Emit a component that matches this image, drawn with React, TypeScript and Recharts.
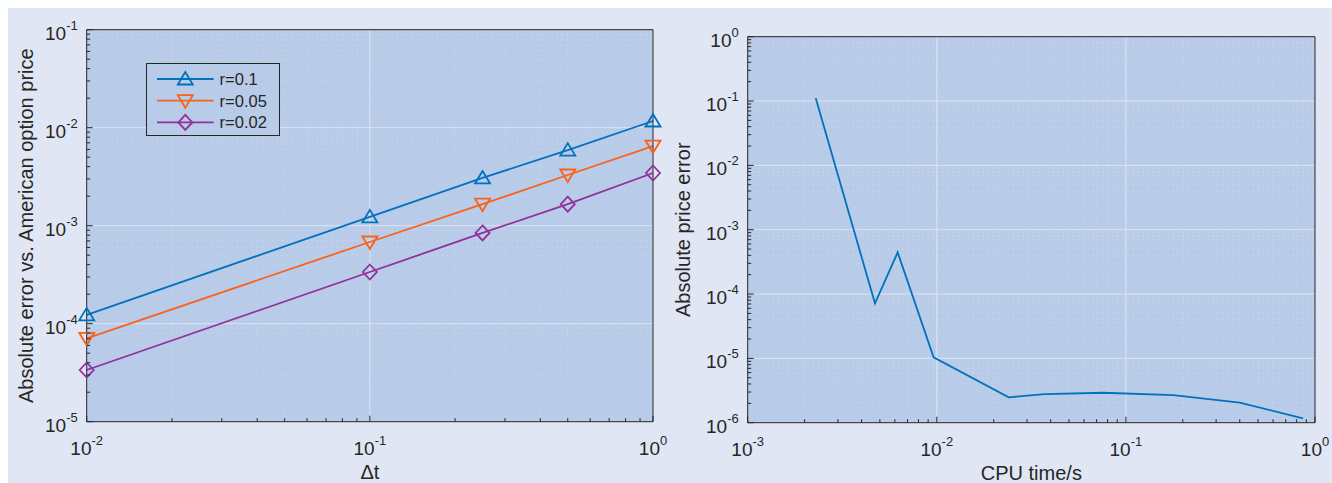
import React from 'react'
import { LineChart, Line, XAxis, YAxis, CartesianGrid, Legend, Label } from 'recharts'

// convergence in time step, three interest rates
const dt = [0.01, 0.1, 0.25, 0.5, 1]
const errR01 = [1.23e-4, 1.23e-3, 3.07e-3, 5.9e-3, 1.17e-2]
const errR005 = [7.1e-5, 6.82e-4, 1.66e-3, 3.29e-3, 6.5e-3]
const errR002 = [3.37e-5, 3.37e-4, 8.43e-4, 1.66e-3, 3.45e-3]

// error against CPU time
const cpuTime = [2.29e-3, 4.71e-3, 6.21e-3, 9.62e-3, 0.024, 0.0372, 0.0759, 0.178, 0.4, 0.864]
const priceErr = [0.11, 7.18e-5, 4.45e-4, 1.04e-5, 2.48e-6, 2.79e-6, 2.92e-6, 2.69e-6, 2.05e-6, 1.17e-6]

const leftXTicks = [1e-2, 1e-1, 1]
const leftYTicks = [1e-5, 1e-4, 1e-3, 1e-2, 1e-1]
const rightXTicks = [1e-3, 1e-2, 1e-1, 1]
const rightYTicks = [1e-6, 1e-5, 1e-4, 1e-3, 1e-2, 1e-1, 1]

const FIG_BG = '#e0e6f3'
const AX_BG = '#b8cbe8'
const INK = '#262626'
const BLUE = '#0072bd'
const ORANGE = '#f9621a'
const PURPLE = '#932f9c'
const FONT = '"Liberation Sans", Arial, Helvetica, sans-serif'
const LW = 1.8

const seriesLeft = [
  { key: 'r01', name: 'r=0.1', color: BLUE, shape: 'up', values: errR01 },
  { key: 'r005', name: 'r=0.05', color: ORANGE, shape: 'down', values: errR005 },
  { key: 'r002', name: 'r=0.02', color: PURPLE, shape: 'diamond', values: errR002 },
]

const leftData = dt.map((d, i) => {
  const row: Record<string, number> = { dt: d }
  seriesLeft.forEach((s) => (row[s.key] = s.values[i]))
  return row
})
const rightData = cpuTime.map((t, i) => ({ cpu: t, err: priceErr[i] }))

// 2..9 inside every decade
const minors = (majors: number[]) => {
  const out: number[] = []
  for (let i = 0; i < majors.length - 1; i++) for (let k = 2; k <= 9; k++) out.push(majors[i] * k)
  return out
}
const inner = (majors: number[]) => majors.slice(1, -1)
const isMajor = (v: number) => Math.abs(Math.log10(v) - Math.round(Math.log10(v))) < 1e-6

const markerPath = (shape: string, cx: number, cy: number) => {
  if (shape === 'up') return `M${cx},${cy - 7} L${cx + 7.5},${cy + 5.5} L${cx - 7.5},${cy + 5.5} Z`
  if (shape === 'down') return `M${cx},${cy + 7} L${cx + 7.5},${cy - 5.5} L${cx - 7.5},${cy - 5.5} Z`
  return `M${cx},${cy - 7.5} L${cx + 7},${cy} L${cx},${cy + 7.5} L${cx - 7},${cy} Z`
}

const makeDot = (shape: string, color: string) => (p: any) => (
  <path key={`m-${p.index}`} d={markerPath(shape, p.cx, p.cy)} fill="none" stroke={color} strokeWidth={LW} />
)

const Pow10 = ({ x, y, v, anchor }: { x: number; y: number; v: number; anchor: 'middle' | 'end' }) => (
  <text x={x} y={y} textAnchor={anchor} fill={INK} fontSize={19} fontFamily={FONT}>
    10
    <tspan dy={-10} fontSize={13}>
      {Math.round(Math.log10(v))}
    </tspan>
  </text>
)

// inward tick marks, labels only on the bottom and left sides
const makeTick = (side: 'bottom' | 'top' | 'left' | 'right') => (props: any) => {
  const { x, y, payload } = props
  const v = payload.value as number
  const major = isMajor(v)
  const len = major ? 6 : 3.5
  let line
  if (side === 'bottom') line = <line x1={x} y1={y} x2={x} y2={y - len} />
  else if (side === 'top') line = <line x1={x} y1={y} x2={x} y2={y + len} />
  else if (side === 'left') line = <line x1={x} y1={y} x2={x + len} y2={y} />
  else line = <line x1={x} y1={y} x2={x - len} y2={y} />
  return (
    <g>
      <g stroke={INK} strokeWidth={1}>{line}</g>
      {major && side === 'bottom' && <Pow10 x={x} y={y + 33} v={v} anchor="middle" />}
      {major && side === 'left' && <Pow10 x={x - 9} y={y + 10} v={v} anchor="end" />}
    </g>
  )
}

const xTitle = (text: string) => (p: any) => {
  const { x, y, width } = p.viewBox
  return (
    <text x={x + width / 2} y={y + 57} textAnchor="middle" fill={INK} fontSize={20} fontFamily={FONT}>
      {text}
    </text>
  )
}

const yTitle = (text: string, gap: number) => (p: any) => {
  const { x, y, width, height } = p.viewBox
  const cx = x + width - gap
  const cy = y + height / 2
  return (
    <text x={cx} y={cy} transform={`rotate(-90 ${cx} ${cy})`} textAnchor="middle" fill={INK} fontSize={20} fontFamily={FONT}>
      {text}
    </text>
  )
}

const LegendBox = () => (
  <div
    style={{
      boxSizing: 'border-box',
      width: 134,
      height: 73,
      border: `1px solid ${INK}`,
      background: AX_BG,
    }}
  >
    <svg width={132} height={71} style={{ display: 'block' }}>
      {seriesLeft.map((s, i) => {
        const cy = 15 + i * 21.7
        return (
          <g key={s.key}>
            <line x1={10} y1={cy} x2={66.6} y2={cy} stroke={s.color} strokeWidth={LW} />
            <path d={markerPath(s.shape, 38.3, cy)} fill="none" stroke={s.color} strokeWidth={LW} />
            <text x={72.6} y={cy + 6} fill={INK} fontSize={16.5} fontFamily={FONT}>
              {s.name}
            </text>
          </g>
        )
      })}
    </svg>
  </div>
)

function Axes({
  xKey,
  xTicks,
  yTicks,
  xLabel,
  yLabel,
  yGap,
}: {
  xKey: string
  xTicks: number[]
  yTicks: number[]
  xLabel: string
  yLabel: string
  yGap: number
}) {
  const xDomain = [xTicks[0], xTicks[xTicks.length - 1]]
  const yDomain = [yTicks[0], yTicks[yTicks.length - 1]]
  const allX = [...xTicks, ...minors(xTicks)]
  const allY = [...yTicks, ...minors(yTicks)]
  const common = {
    type: 'number' as const,
    scale: 'log' as const,
    interval: 0 as const,
    tickSize: 0,
    tickMargin: 0,
    tickLine: false,
    axisLine: { stroke: INK, strokeWidth: 1 },
  }
  // axes are 1px thick so they still render; the margins absorb that pixel
  return [
    <CartesianGrid
      key="gmin"
      fill={AX_BG}
      fillOpacity={1}
      stroke="#d4dae6"
      strokeDasharray="1 4"
      horizontalValues={minors(yTicks)}
      verticalValues={minors(xTicks)}
    />,
    <CartesianGrid key="gmaj" fill="none" stroke="#e1e5ee" horizontalValues={inner(yTicks)} verticalValues={inner(xTicks)} />,
    <XAxis key="xb" dataKey={xKey} domain={xDomain} ticks={allX} height={1} tick={makeTick('bottom')} {...common}>
      <Label content={xTitle(xLabel)} />
    </XAxis>,
    <XAxis key="xt" xAxisId="top" orientation="top" domain={xDomain} ticks={allX} height={1} tick={makeTick('top')} {...common} />,
    <YAxis key="yl" domain={yDomain} ticks={allY} width={1} tick={makeTick('left')} {...common}>
      <Label content={yTitle(yLabel, yGap)} />
    </YAxis>,
    <YAxis key="yr" yAxisId="right" orientation="right" domain={yDomain} ticks={allY} width={1} tick={makeTick('right')} {...common} />,
  ]
}

export default function App() {
  return (
    <div style={{ position: 'absolute', left: 8, top: 8, width: 1324, height: 475, background: FIG_BG }}>
      <div style={{ position: 'absolute', left: 0, top: 0 }}>
        <LineChart width={660} height={475} data={leftData} margin={{ top: 20.7, right: 14, bottom: 60.3, left: 77.7 }}>
          {Axes({
            xKey: 'dt',
            xTicks: leftXTicks,
            yTicks: leftYTicks,
            xLabel: 'Δt',
            yLabel: 'Absolute error vs. American option price',
            yGap: 54,
          })}
          {seriesLeft.map((s) => (
            <Line
              key={s.key}
              dataKey={s.key}
              name={s.name}
              type="linear"
              stroke={s.color}
              strokeWidth={LW}
              dot={makeDot(s.shape, s.color)}
              activeDot={false}
              isAnimationActive={false}
            />
          ))}
          <Legend
            layout="vertical"
            align="center"
            verticalAlign="middle"
            content={<LegendBox />}
            wrapperStyle={{ left: 137.7, top: 55.3, right: 'auto', bottom: 'auto', width: 134, height: 73 }}
          />
        </LineChart>
      </div>
      <div style={{ position: 'absolute', left: 660, top: 0 }}>
        <LineChart width={664} height={475} data={rightData} margin={{ top: 27.7, right: 16, bottom: 59.3, left: 78.7 }}>
          {Axes({
            xKey: 'cpu',
            xTicks: rightXTicks,
            yTicks: rightYTicks,
            xLabel: 'CPU time/s',
            yLabel: 'Absolute price error',
            yGap: 57.7,
          })}
          <Line dataKey="err" type="linear" stroke={BLUE} strokeWidth={LW} dot={false} activeDot={false} isAnimationActive={false} />
        </LineChart>
      </div>
    </div>
  )
}
